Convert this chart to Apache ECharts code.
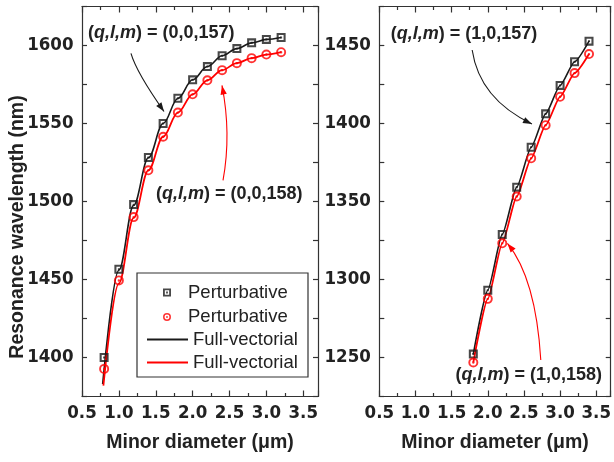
<!DOCTYPE html>
<html><head><meta charset="utf-8">
<script src="https://cdn.jsdelivr.net/npm/echarts@6/dist/echarts.min.js"></script>
<style>html,body{margin:0;padding:0;background:#fff;overflow:hidden}#c{width:614px;height:462px}</style>
</head><body><div id="c"></div>
<script>
// ---- data ----
const diamLeft = [0.8, 1.0, 1.2, 1.4, 1.6, 1.8, 2.0, 2.2, 2.4, 2.6, 2.8, 3.0, 3.2];
const pertLeft157 = [1400, 1456.6, 1498, 1528.2, 1550, 1566.2, 1578, 1586.5, 1593.4, 1598, 1601.7, 1603.9, 1605.1];
const pertLeft158 = [1392.7, 1449.4, 1490, 1520, 1541.5, 1557, 1568.7, 1577.7, 1584.2, 1588.7, 1591.9, 1594.2, 1595.7];
const fvDiamLeft157 = [0.78, 1.0, 1.2, 1.4, 1.6, 1.8, 2.0, 2.2, 2.4, 2.6, 2.8, 3.0, 3.2];
const fvLeft157 = [1383, 1456, 1497.5, 1528, 1550, 1566, 1578, 1586.5, 1593.4, 1598, 1601.7, 1603.9, 1605.1];
const fvDiamLeft158 = [0.79, 1.0, 1.2, 1.4, 1.6, 1.8, 2.0, 2.2, 2.4, 2.6, 2.8, 3.0, 3.2];
const fvLeft158 = [1382, 1447.5, 1489.5, 1520, 1541.5, 1557, 1568.7, 1577.7, 1584.2, 1588.7, 1591.9, 1594.2, 1595.7];

const diamRight = [1.8, 2.0, 2.2, 2.4, 2.6, 2.8, 3.0, 3.2, 3.4];
const pertRight157 = [1252.2, 1293.1, 1328.9, 1359.2, 1384.8, 1406.2, 1424.4, 1439.6, 1452.8];
const pertRight158 = [1246.8, 1287.6, 1323.2, 1353.2, 1377.7, 1398.9, 1417.1, 1432.3, 1444.5];
const fvRight157 = [1252.2, 1293.1, 1328.9, 1359.2, 1384.8, 1406.2, 1424.4, 1439.6, 1452.8];
const fvRight158 = [1246.8, 1287.6, 1323.2, 1353.2, 1377.7, 1398.9, 1417.1, 1432.3, 1444.5];

const xTickLabels = [0.5, 1.0, 1.5, 2.0, 2.5, 3.0, 3.5];
const yTickLabelsLeft = [1400, 1450, 1500, 1550, 1600];
const yTickLabelsRight = [1250, 1300, 1350, 1400, 1450];

const legendNames = ['Perturbative', 'Perturbative', 'Full-vectorial', 'Full-vectorial'];
const xTitle = 'Minor diameter (\u03bcm)';
const yTitle = 'Resonance wavelength (nm)';

// annotations in data coordinates
const annotations = [
  {grid: 0, text: '0,0,157', at: [0.581, 1607.7], color: '#1a1a1a',
   arrow: {from: [1.164, 1594.9], ctrl: [1.239, 1582.7], to: [1.612, 1557.7]}},
  {grid: 0, text: '0,0,158', at: [1.503, 1505.1], color: '#ff0000',
   arrow: {from: [2.412, 1513.5], ctrl: [2.527, 1543.3], to: [2.398, 1574.4]}},
  {grid: 1, text: '1,0,157', at: [0.659, 1457.4], color: '#1a1a1a',
   arrow: {from: [1.784, 1447.1], ctrl: [1.886, 1415.7], to: [2.611, 1399.7]}},
  {grid: 1, text: '1,0,158', at: [1.554, 1238.8], color: '#ff0000',
   arrow: {from: [2.733, 1248.4], ctrl: [2.665, 1300.6], to: [2.272, 1323.1]}}
];

// ---- styling ----
const FONT = "'Liberation Sans', Arial, sans-serif";
const NARROW = "'Liberation Sans Narrow', 'DejaVu Sans Condensed', 'Liberation Sans', sans-serif";
const BLACK = '#1a1a1a', RED = '#ff0000', AXIS = '#333333', TXT = '#222222';
const SQUARE = 'path://M0,0H10V10H0Z M2.3,2.3V7.7H7.7V2.3Z M3.9,3.9H6.1V6.1H3.9Z';
const CIRCLE = 'path://M5,0A5,5,0,1,1,5,10A5,5,0,1,1,5,0Z M5,1.9A3.1,3.1,0,1,0,5,8.1A3.1,3.1,0,1,0,5,1.9Z M5,3.8A1.2,1.2,0,1,1,5,6.2A1.2,1.2,0,1,1,5,3.8Z';

const zip = (xs, ys) => xs.map((x, i) => [x, ys[i]]);

const grids = [
  {left: 82, top: 6.5, width: 236, height: 390, show: false},
  {left: 379.3, top: 6.5, width: 236, height: 390, show: false}
];

function xAxes(g) {
  const common = {
    type: 'value', gridIndex: g, min: 0.5, max: 3.7, interval: 0.5,
    axisLine: {show: true, onZero: false, lineStyle: {color: AXIS, width: 1.2}},
    axisTick: {show: true, inside: true, length: 6, lineStyle: {color: AXIS, width: 1.2}},
    minorTick: {show: true, splitNumber: 2, length: 3.5, lineStyle: {color: AXIS, width: 1.2}},
    splitLine: {show: false}
  };
  return [
    Object.assign({}, common, {
      position: 'bottom',
      axisLabel: {customValues: xTickLabels, formatter: v => Number(v).toFixed(1), margin: 7,
        color: TXT, fontFamily: NARROW, fontWeight: 'bold', fontSize: 18.5},
      name: xTitle, nameLocation: 'middle', nameGap: 36,
      nameTextStyle: {color: TXT, fontFamily: FONT, fontWeight: 'bold', fontSize: 19.5}
    }),
    Object.assign({}, common, {position: 'top', axisLabel: {show: false}})
  ];
}
function yAxes(g, lo, hi, labels) {
  const common = {
    type: 'value', gridIndex: g, min: lo, max: hi, interval: 25,
    axisLine: {show: true, onZero: false, lineStyle: {color: AXIS, width: 1.2}},
    axisTick: {show: true, inside: true, length: 5, lineStyle: {color: AXIS, width: 1.2}},
    splitLine: {show: false}
  };
  return [
    Object.assign({}, common, {
      position: 'left',
      axisLabel: {customValues: labels, formatter: v => String(v), margin: 8.5,
        color: TXT, fontFamily: NARROW, fontWeight: 'bold', fontSize: 18.5}
    }),
    Object.assign({}, common, {position: 'right', axisLabel: {show: false}})
  ];
}

const scatterBase = {type: 'scatter', symbolSize: 9, z: 5};
const lineBase = {type: 'line', showSymbol: false, symbol: 'none', smooth: 0.35, smoothMonotone: 'x', z: 3};

const option = {
  animation: false,
  backgroundColor: '#ffffff',
  grid: grids,
  xAxis: [...xAxes(0), ...xAxes(1)],
  yAxis: [...yAxes(0, 1375, 1625, yTickLabelsLeft), ...yAxes(1, 1225, 1475, yTickLabelsRight)],
  legend: [
    {
      data: ['P157', 'P158'], orient: 'vertical', left: 163, top: 283, padding: 0,
      itemWidth: 8, itemHeight: 8, itemGap: 5.5, selectedMode: false,
      formatter: n => n === 'P157' ? legendNames[0] : legendNames[1],
      textStyle: {color: TXT, fontFamily: FONT, fontSize: 18.5, padding: [0, 0, 0, 12]}
    },
    {
      data: ['F157', 'F158'], orient: 'vertical', left: 147, top: 330, padding: 0,
      itemWidth: 41, itemHeight: 2, itemGap: 4, icon: 'rect', selectedMode: false,
      formatter: n => n === 'F157' ? legendNames[2] : legendNames[3],
      textStyle: {color: TXT, fontFamily: FONT, fontSize: 18.5}
    }
  ],
  series: [
    Object.assign({}, lineBase, {name: 'F157', xAxisIndex: 0, yAxisIndex: 0, data: zip(fvDiamLeft157, fvLeft157),
      lineStyle: {color: BLACK, width: 1.6}, itemStyle: {color: BLACK}}),
    Object.assign({}, lineBase, {name: 'F158', xAxisIndex: 0, yAxisIndex: 0, data: zip(fvDiamLeft158, fvLeft158),
      lineStyle: {color: RED, width: 1.8}, itemStyle: {color: RED}}),
    Object.assign({}, scatterBase, {name: 'P157', xAxisIndex: 0, yAxisIndex: 0, data: zip(diamLeft, pertLeft157),
      symbol: SQUARE, itemStyle: {color: BLACK}}),
    Object.assign({}, scatterBase, {name: 'P158', xAxisIndex: 0, yAxisIndex: 0, data: zip(diamLeft, pertLeft158),
      symbol: CIRCLE, symbolSize: 10, itemStyle: {color: RED}}),
    Object.assign({}, lineBase, {name: 'F157', xAxisIndex: 2, yAxisIndex: 2, data: zip(diamRight, fvRight157), smooth: 0.2,
      lineStyle: {color: BLACK, width: 1.6}, itemStyle: {color: BLACK}}),
    Object.assign({}, lineBase, {name: 'F158', xAxisIndex: 2, yAxisIndex: 2, data: zip(diamRight, fvRight158), smooth: 0.2,
      lineStyle: {color: RED, width: 1.8}, itemStyle: {color: RED}}),
    Object.assign({}, scatterBase, {name: 'P157', xAxisIndex: 2, yAxisIndex: 2, data: zip(diamRight, pertRight157),
      symbol: SQUARE, itemStyle: {color: BLACK}}),
    Object.assign({}, scatterBase, {name: 'P158', xAxisIndex: 2, yAxisIndex: 2, data: zip(diamRight, pertRight158),
      symbol: CIRCLE, symbolSize: 10, itemStyle: {color: RED}})
  ]
};

const chart = echarts.init(document.getElementById('c'), null, {renderer: 'canvas'});
chart.setOption(option);

// ---- annotations, legend frame, y title ----
const graphics = [];
graphics.push({type: 'rect', shape: {x: 137, y: 273, width: 171, height: 104}, z: 10,
  style: {fill: 'none', stroke: AXIS, lineWidth: 1.2}});
graphics.push({type: 'text', x: 18, y: 227, rotation: Math.PI / 2, z: 10,
  style: {text: yTitle, fill: TXT, font: 'bold 19.5px ' + FONT, textAlign: 'center', textVerticalAlign: 'middle'}});
annotations.forEach(a => {
  const px = v => chart.convertToPixel({gridIndex: a.grid}, v);
  const t = px(a.at);
  graphics.push({type: 'text', x: t[0], y: t[1], z: 10,
    style: {
      text: '{b|(}{i|q,l,m}{b|) = (' + a.text + ')}',
      textVerticalAlign: 'middle', textAlign: 'left',
      rich: {
        b: {font: 'bold 18px ' + FONT, fill: TXT},
        i: {font: 'italic bold 18px ' + FONT, fill: TXT}
      }
    }});
  const s = px(a.arrow.from), c = px(a.arrow.ctrl), e = px(a.arrow.to);
  graphics.push({type: 'bezierCurve', z: 9,
    shape: {x1: s[0], y1: s[1], cpx1: c[0], cpy1: c[1], x2: e[0], y2: e[1]},
    style: {stroke: a.color, lineWidth: 1.1, fill: 'none'}});
  let dx = e[0] - c[0], dy = e[1] - c[1];
  const L = Math.hypot(dx, dy); dx /= L; dy /= L;
  const hl = 9, hw = 3.2;
  const bx = e[0] - dx * hl, by = e[1] - dy * hl;
  graphics.push({type: 'polygon', z: 9,
    shape: {points: [[e[0], e[1]], [bx - dy * hw, by + dx * hw], [bx + dy * hw, by - dx * hw]]},
    style: {fill: a.color}});
});
chart.setOption({graphic: graphics});
</script>
</body></html>
